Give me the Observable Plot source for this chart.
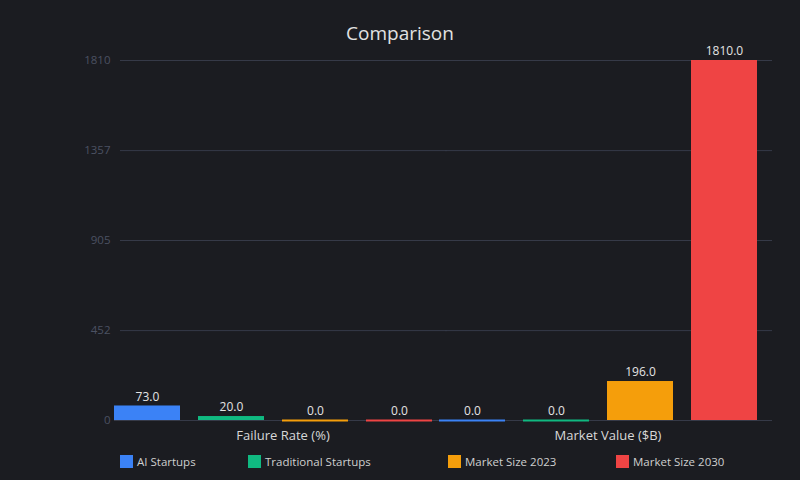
<!DOCTYPE html>
<html>
<head>
<meta charset="utf-8">
<script src="https://cdn.jsdelivr.net/npm/d3@7"></script>
<script src="https://cdn.jsdelivr.net/npm/@observablehq/plot@0.6"></script>
<style>
  html, body { margin: 0; padding: 0; background: #1b1c21; }
  #root { position: relative; width: 800px; height: 480px; overflow: hidden; font-family: "Open Sans", sans-serif; }
  #title { position: absolute; left: 0; top: 20px; width: 800px; text-align: center; font-size: 19px; line-height: 26px; color: #e2e2e2; }
  #chart { position: absolute; left: 0; top: 0; }
  .legend-item { position: absolute; top: 454px; display: flex; align-items: center; font-size: 11.5px; color: #cfcfcf; white-space: nowrap; }
  .legend-item .sw { width: 13px; height: 13px; margin-right: 4px; }
</style>
</head>
<body>
<div id="root">
  <div id="chart"></div>
  <div id="title">Comparison</div>
</div>
<script>
// Groups along the axis and the series inside each group
const groups = ["Failure Rate (%)", "Market Value ($B)"];
const series = ["AI Startups", "Traditional Startups", "Market Size 2023", "Market Size 2030"];
const failureRate = [73, 20, 0, 0];
const marketValue = [0, 0, 196, 1810];
const seriesColors = ["#3b82f6", "#10b981", "#f59e0b", "#ef4444"];
const yTicks = [0, 452, 905, 1357, 1810];

const valuesByGroup = [failureRate, marketValue];
const data = groups.flatMap((g, gi) =>
  series.map((s, si) => ({ group: g, series: s, value: valuesByGroup[gi][si] }))
);

const chart = Plot.plot({
  width: 800,
  height: 450,
  marginTop: 60,
  marginBottom: 30,
  marginLeft: 114,
  marginRight: 36,
  style: { background: "transparent", color: "#d4d4d4", fontFamily: "Open Sans, sans-serif", fontSize: "12px" },
  fx: { domain: groups, padding: 0, round: false, label: null },
  x: { domain: series, paddingInner: 18 / 84, paddingOuter: 0.0417, align: 0, round: false, axis: null },
  y: { domain: [0, 1810], label: null },
  color: { domain: series, range: seriesColors },
  marks: [
    Plot.gridY({ ticks: yTicks, stroke: "#363a48", strokeOpacity: 1, insetLeft: 6, insetRight: -8 }),
    Plot.ruleY([0], { stroke: "#363a48", insetRight: -7 }),
    Plot.axisY({ ticks: yTicks, tickSize: 0, tickPadding: 4, tickFormat: d => String(d), fill: "#4b5162", fontSize: 11.5, label: null }),
    Plot.axisFx({ anchor: "bottom", tickSize: 0, tickPadding: 10, label: null, fill: "#d8d8d8", fontSize: 13, dx: 6 }),
    Plot.barY(data, { fx: "group", x: "series", y: "value", fill: "series" }),
    Plot.tickY(data, { filter: d => d.value === 0, fx: "group", x: "series", y: "value", stroke: "series", strokeWidth: 2 }),
    Plot.text(data, { fx: "group", x: "series", y: "value", text: d => d.value.toFixed(1), dy: -9, fill: "#e4e4e4", fontSize: 12 })
  ]
});
document.getElementById("chart").appendChild(chart);

// Legend below the plot
const legendLeft = [120, 248, 448, 616];
const root = document.getElementById("root");
series.forEach((s, i) => {
  const item = document.createElement("div");
  item.className = "legend-item";
  item.style.left = legendLeft[i] + "px";
  const sw = document.createElement("span");
  sw.className = "sw";
  sw.style.background = seriesColors[i];
  const label = document.createElement("span");
  label.textContent = s;
  item.appendChild(sw);
  item.appendChild(label);
  root.appendChild(item);
});
</script>
</body>
</html>
